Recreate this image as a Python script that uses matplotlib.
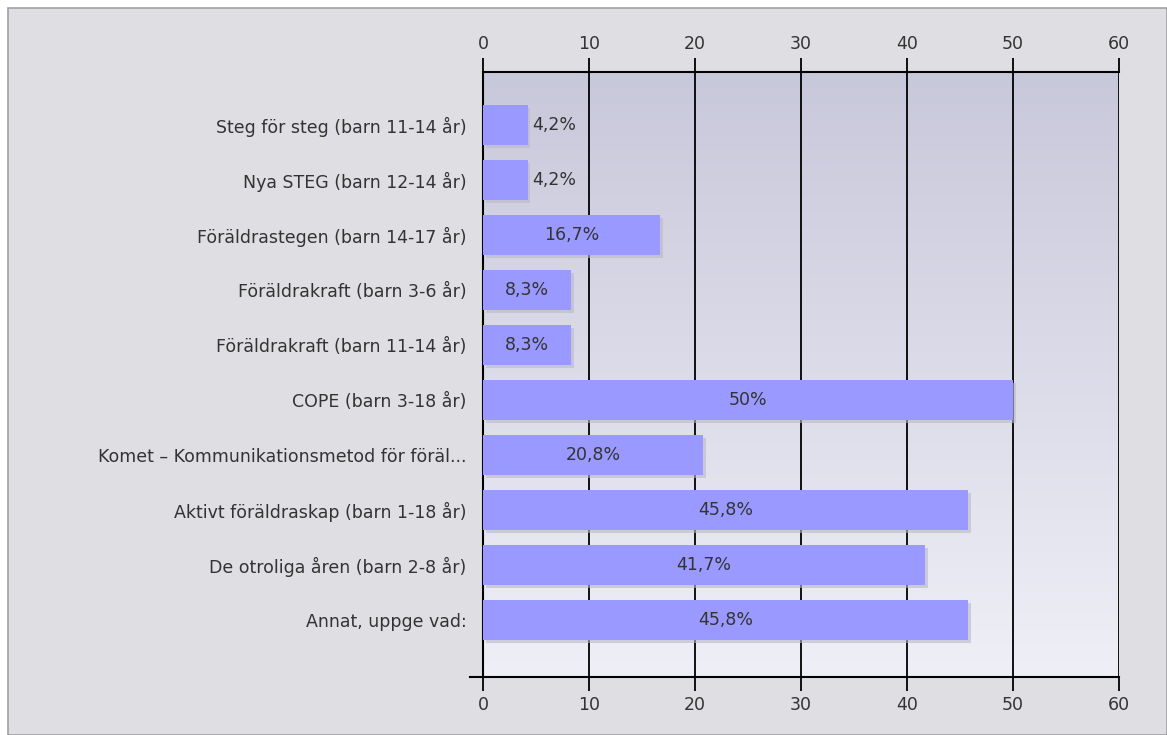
import numpy as np
import matplotlib
matplotlib.use("Agg")
import matplotlib.pyplot as plt
from matplotlib import patheffects as pe
from matplotlib.patches import Rectangle

categories = [
    "Steg för steg (barn 11-14 år)",
    "Nya STEG (barn 12-14 år)",
    "Föräldrastegen (barn 14-17 år)",
    "Föräldrakraft (barn 3-6 år)",
    "Föräldrakraft (barn 11-14 år)",
    "COPE (barn 3-18 år)",
    "Komet \u2013 Kommunikationsmetod för föräl...",
    "Aktivt föräldraskap (barn 1-18 år)",
    "De otroliga åren (barn 2-8 år)",
    "Annat, uppge vad:",
]
values = [4.2, 4.2, 16.7, 8.3, 8.3, 50, 20.8, 45.8, 41.7, 45.8]
value_labels = ["4,2%", "4,2%", "16,7%", "8,3%", "8,3%", "50%", "20,8%", "45,8%", "41,7%", "45,8%"]
xticks = [0, 10, 20, 30, 40, 50, 60]

plt.rcParams['font.family'] = ['DejaVu Sans']
txt = '#333333'
fs = 12.5

fig = plt.figure(figsize=(11.67, 7.35), dpi=100, facecolor='white')
# outer panel with grey border
fig.patches.append(Rectangle((8/1167, 0), 1 - 8/1167, 1 - 8/735, transform=fig.transFigure,
                             facecolor='#dfdfe3', edgecolor='#a0a0a0', lw=1.2, zorder=-10))

ax = fig.add_axes([483/1167, 1 - 677/735, (1119 - 483)/1167, (677 - 72)/735])
ax.set_facecolor('none')

y = np.arange(len(categories))
ytop, ybot = -0.96, len(categories) - 1 + 1.04

# gradient background
grad = np.linspace(0, 1, 256).reshape(-1, 1)
cmap = matplotlib.colors.LinearSegmentedColormap.from_list('bg', ['#c8c8db', '#efeff7'])
ax.imshow(grad, extent=[0, 60, ybot, ytop], aspect='auto', cmap=cmap, zorder=0)

for xv in xticks[1:]:
    ax.axvline(xv, color='black', lw=1.3, zorder=1)

bars = ax.barh(y, values, height=0.73, color='#9999ff', zorder=3)
for b in bars:
    b.set_path_effects([pe.SimplePatchShadow(offset=(2, -2), shadow_rgbFace='#b8b8c8', alpha=0.6), pe.Normal()])

for yi, v, lab in zip(y, values, value_labels):
    if v < 6:
        ax.text(v + 0.45, yi, lab, ha='left', va='center', fontsize=fs, color=txt, zorder=4)
    else:
        ax.text(v / 2, yi, lab, ha='center', va='center', fontsize=fs, color=txt, zorder=4)

ax.set_xlim(0, 60)
ax.set_ylim(ybot, ytop)
ax.set_xticks(xticks)
ax.tick_params(axis='x', top=True, labeltop=True, bottom=True, labelbottom=True,
               direction='out', length=10, width=1.3, color='black', labelsize=fs,
               labelcolor=txt, pad=4)
ax.set_yticks(y)
ax.set_yticklabels(categories)
ax.set_yticks(y[::2], minor=True)
ax.tick_params(axis='y', which='major', length=0, pad=12, labelsize=fs, labelcolor=txt)
ax.tick_params(axis='y', which='minor', length=10, width=1.3, color='black', direction='out')

for s in ['left', 'top', 'bottom']:
    ax.spines[s].set_color('black')
    ax.spines[s].set_linewidth(1.5)
ax.spines['right'].set_visible(False)
# bottom axis line runs a bit past zero
ax.plot([-1.2, 0], [ybot, ybot], color='black', lw=1.5, clip_on=False, zorder=5)

fig.savefig('out.png', dpi=100, facecolor='white')
